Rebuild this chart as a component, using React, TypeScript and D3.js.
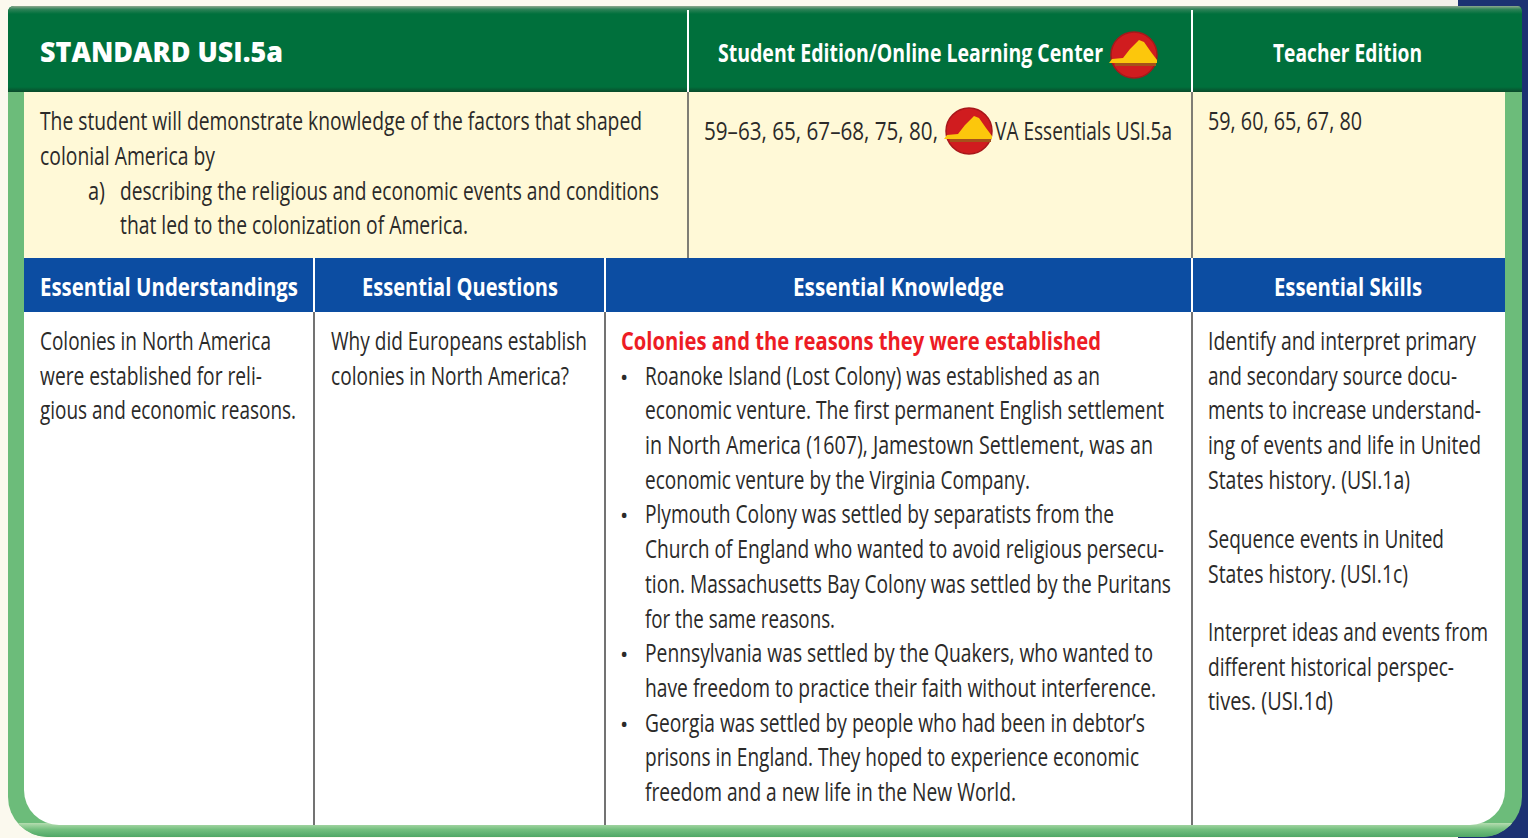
import React from "react";
import * as d3 from "d3";

const W = 1528, H = 838;
const title = "STANDARD USI.5a";
const topHeaders = ["Student Edition/Online Learning Center", "Teacher Edition"];
const blueHeaders = ["Essential Understandings", "Essential Questions", "Essential Knowledge", "Essential Skills"];
const standardLines = [
  "The student will demonstrate knowledge of the factors that shaped",
  "colonial America by",
  "a)",
  "describing the religious and economic events and conditions",
  "that led to the colonization of America.",
];
const studentPages = ["59–63, 65, 67–68, 75, 80,", "VA Essentials USI.5a"];
const teacherPages = "59, 60, 65, 67, 80";
const understandings = ["Colonies in North America", "were established for reli-", "gious and economic reasons."];
const questions = ["Why did Europeans establish", "colonies in North America?"];
const knowledgeHeading = "Colonies and the reasons they were established";
const knowledge = [
  "Roanoke Island (Lost Colony) was established as an",
  "economic venture. The first permanent English settlement",
  "in North America (1607), Jamestown Settlement, was an",
  "economic venture by the Virginia Company.",
  "Plymouth Colony was settled by separatists from the",
  "Church of England who wanted to avoid religious persecu-",
  "tion. Massachusetts Bay Colony was settled by the Puritans",
  "for the same reasons.",
  "Pennsylvania was settled by the Quakers, who wanted to",
  "have freedom to practice their faith without interference.",
  "Georgia was settled by people who had been in debtor’s",
  "prisons in England. They hoped to experience economic",
  "freedom and a new life in the New World.",
];
const bulletLines = [0, 4, 8, 10];
const skills = [
  "Identify and interpret primary",
  "and secondary source docu-",
  "ments to increase understand-",
  "ing of events and life in United",
  "States history. (USI.1a)",
];
const skills2 = ["Sequence events in United", "States history. (USI.1c)"];
const skills3 = ["Interpret ideas and events from", "different historical perspec-", "tives. (USI.1d)"];

const standardX = [[40, 642], [40, 215], [88, 105], [120, 659], [120, 468]];
const understandingsEnd = [271, 262, 296];
const questionsEnd = [587, 569];
const knowledgeEnd = [1100, 1164, 1153, 1030, 1114, 1164, 1171, 835, 1153, 1156, 1145, 1139, 1016];
const skillsEnd = [1476, 1457, 1481, 1481, 1410];
const skills2End = [1444, 1408];
const skills3End = [1488, 1454, 1333];

const FONT = "'Open Sans', 'Noto Sans', sans-serif";
const INK = "#2b2a29";
// line index -> baseline of the body text (34.75px leading)
const lineY = d3.scaleLinear().domain([0, 13]).range([350, 801]);

function T({ x, y, x2, children, size = 25, fill = INK, weight = 400 }: any) {
  return (
    <text x={x} y={y} textLength={x2 - x} lengthAdjust="spacingAndGlyphs" fontFamily={FONT}
      fontSize={size} fill={fill} fontWeight={weight}>{children}</text>
  );
}

function Icon({ cx, cy }: { cx: number; cy: number }) {
  const yellow = d3.line()([
    [cx - 25, cy + 8], [cx - 22, cy + 4], [cx - 11, cy + 3], [cx - 4, cy - 6], [cx + 5, cy - 15],
    [cx + 10, cy - 13], [cx + 17, cy - 3], [cx + 23, cy + 5], [cx + 23, cy + 8],
  ]) + "Z";
  return (
    <g>
      <circle cx={cx} cy={cy} r={23} fill="#d01c1f" stroke="#a8171a" strokeWidth={1.5} />
      <path d={yellow} fill="#fcc70c" />
      <rect x={cx - 19} y={cy + 8} width={41} height={3} fill="#a5521a" />
    </g>
  );
}

const OUTER = "M8 12Q8 8 12 8H1518Q1522 8 1522 12V797A40 40 0 0 1 1482 837H48A40 40 0 0 1 8 797Z";

export default function App() {
  const blueY = 296;
  return (
    <svg width={W} height={H} viewBox={`0 0 ${W} ${H}`}
      style={{ position: "absolute", left: 0, top: 0, display: "block" }}>
      <defs>
        <linearGradient id="bandB" x1="0" x2="0" y1="0" y2="1">
          <stop offset="0" stopColor="#b5dcb0" />
          <stop offset="0.45" stopColor="#74c07f" />
          <stop offset="1" stopColor="#4fa765" />
        </linearGradient>
        <linearGradient id="bandTop" x1="0" x2="0" y1="0" y2="1">
          <stop offset="0" stopColor="#8fa98f" />
          <stop offset="0.4" stopColor="#2f8358" />
          <stop offset="1" stopColor="#00703c" />
        </linearGradient>
        <linearGradient id="bandHeadBottom" x1="0" x2="0" y1="0" y2="1">
          <stop offset="0" stopColor="#00703c" />
          <stop offset="1" stopColor="#0a4a2a" />
        </linearGradient>
        <clipPath id="outerClip"><path d={OUTER} /></clipPath>
      </defs>
      <rect width={W} height={H} fill="#fbf9ee" />
      <rect x={1458} y={0} width={70} height={H} fill="#1c3272" />
      <rect x={1350} y={0} width={108} height={7} fill="#f2f1ea" />

      {/* green frame */}
      <path d={OUTER} fill="#6cbc7a" />
      <rect x={0} y={823} width={W} height={14} fill="url(#bandB)" clipPath="url(#outerClip)" />
      <path d="M24 92H1505V790A35 35 0 0 1 1470 825H59A35 35 0 0 1 24 790Z" fill="#ffffff" />

      {/* bands */}
      <path d="M8 92V12Q8 6 14 6H1518Q1522 6 1522 12V92Z" fill="#00703c" />
      <path d="M8 14Q8 6 14 6H1518Q1522 6 1522 14Z" fill="url(#bandTop)" />
      <rect x={8} y={87} width={1514} height={5} fill="url(#bandHeadBottom)" />
      <rect x={24} y={92} width={1481} height={166} fill="#fff9d7" />
      <rect x={24} y={258} width={1481} height={54} fill="#0c4da2" />

      {/* rules */}
      {[688, 1192].map((x) => <line key={x} x1={x} x2={x} y1={10} y2={92} stroke="#fff" strokeWidth={2} />)}
      {[688, 1192].map((x) => <line key={x} x1={x} x2={x} y1={92} y2={258} stroke="#555" strokeWidth={1.5} />)}
      {[314, 605, 1192].map((x) => <line key={x} x1={x} x2={x} y1={258} y2={312} stroke="#fff" strokeWidth={2} />)}
      {[314, 605, 1192].map((x) => <line key={x} x1={x} x2={x} y1={312} y2={825} stroke="#444" strokeWidth={1.5} />)}

      {/* top header */}
      <T x={40} x2={283} y={62} size={28} fill="#fff" weight={800}>{title}</T>
      <T x={718} x2={1103} y={62} size={25} fill="#fff" weight={700}>{topHeaders[0]}</T>
      <T x={1273} x2={1422} y={62} size={25} fill="#fff" weight={700}>{topHeaders[1]}</T>
      <Icon cx={1134} cy={55} />

      {/* standard row */}
      <T x={standardX[0][0]} x2={standardX[0][1]} y={130}>{standardLines[0]}</T>
      <T x={standardX[1][0]} x2={standardX[1][1]} y={165}>{standardLines[1]}</T>
      <T x={standardX[2][0]} x2={standardX[2][1]} y={200}>{standardLines[2]}</T>
      <T x={standardX[3][0]} x2={standardX[3][1]} y={200}>{standardLines[3]}</T>
      <T x={standardX[4][0]} x2={standardX[4][1]} y={234}>{standardLines[4]}</T>
      <T x={704} x2={938} y={140}>{studentPages[0]}</T>
      <Icon cx={969} cy={131} />
      <T x={995} x2={1172} y={140}>{studentPages[1]}</T>
      <T x={1208} x2={1362} y={130}>{teacherPages}</T>

      {/* blue header */}
      <T x={40} x2={298} y={blueY} size={25} fill="#fff" weight={700}>{blueHeaders[0]}</T>
      <T x={362} x2={558} y={blueY} size={25} fill="#fff" weight={700}>{blueHeaders[1]}</T>
      <T x={793} x2={1004} y={blueY} size={25} fill="#fff" weight={700}>{blueHeaders[2]}</T>
      <T x={1274} x2={1422} y={blueY} size={25} fill="#fff" weight={700}>{blueHeaders[3]}</T>

      {/* body columns */}
      {understandings.map((s, i) => <T key={s} x={40} x2={understandingsEnd[i]} y={lineY(i)}>{s}</T>)}
      {questions.map((s, i) => <T key={s} x={331} x2={questionsEnd[i]} y={lineY(i)}>{s}</T>)}
      <T x={621} x2={1101} y={lineY(0)} fill="#ed1c24" weight={700}>{knowledgeHeading}</T>
      {knowledge.map((s, i) => <T key={s} x={645} x2={knowledgeEnd[i]} y={lineY(i + 1)}>{s}</T>)}
      {bulletLines.map((i) => (
        <text key={i} x={620} y={lineY(i + 1)} fontFamily={FONT} fontSize={22} fill={INK}>•</text>
      ))}
      {skills.map((s, i) => <T key={s} x={1208} x2={skillsEnd[i]} y={lineY(i)}>{s}</T>)}
      {skills2.map((s, i) => <T key={s} x={1208} x2={skills2End[i]} y={548 + i * 34.5}>{s}</T>)}
      {skills3.map((s, i) => <T key={s} x={1208} x2={skills3End[i]} y={641 + i * 34.5}>{s}</T>)}
    </svg>
  );
}
